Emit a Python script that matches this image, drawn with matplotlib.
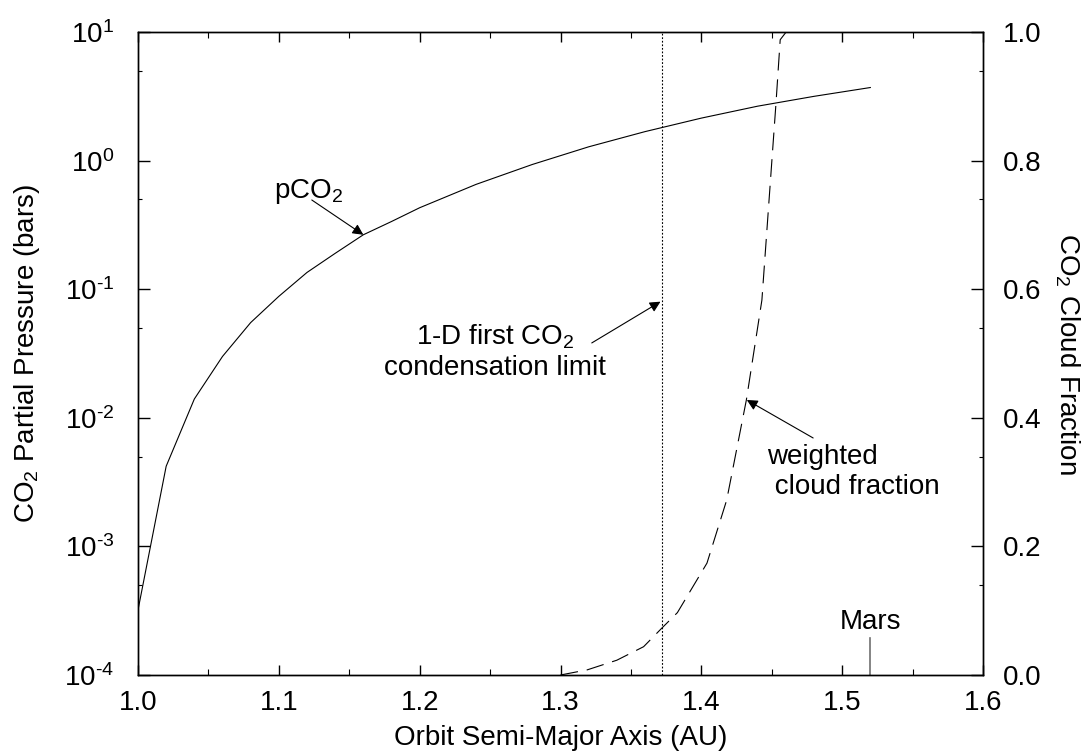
"""CO2 partial pressure and CO2 cloud fraction versus orbital distance."""

import matplotlib
matplotlib.use("Agg")
import matplotlib.pyplot as plt
import numpy as np
from matplotlib.ticker import FixedLocator, FuncFormatter, LogLocator, MultipleLocator, NullFormatter


# solid curve: CO2 partial pressure (bars) against semi-major axis (AU)
a_pco2 = [1.00, 1.02, 1.04, 1.06, 1.08, 1.10, 1.12, 1.14, 1.16, 1.18, 1.20,
          1.24, 1.28, 1.32, 1.36, 1.40, 1.44, 1.48, 1.52]
pco2 = [3.2e-4, 4.2e-3, 1.4e-2, 3.0e-2, 5.5e-2, 0.088, 0.135, 0.19, 0.265, 0.336, 0.43,
        0.653, 0.933, 1.28, 1.68, 2.14, 2.65, 3.16, 3.70]

# dashed curve: weighted CO2 cloud fraction
a_cloud = [1.300, 1.319, 1.340, 1.359, 1.372, 1.383, 1.404, 1.418, 1.432, 1.443,
           1.453, 1.456, 1.462]
cloud = [0.0, 0.008, 0.023, 0.044, 0.073, 0.097, 0.174, 0.272, 0.428, 0.583,
         0.889, 0.988, 1.005]

condensation_limit = 1.372
mars_a = 1.52

x_ticks = [1.0, 1.1, 1.2, 1.3, 1.4, 1.5, 1.6]
frac_ticks = [0.0, 0.2, 0.4, 0.6, 0.8, 1.0]

FONT = "Liberation Sans"
FS = 20
plt.rcParams.update({
    "font.family": FONT,
    "font.size": FS,
    "mathtext.fontset": "custom",
    "mathtext.rm": FONT,
    "mathtext.it": FONT + ":italic",
    "mathtext.bf": FONT + ":bold",
    "axes.unicode_minus": False,
    "axes.linewidth": 1.0,
})


def decade_label(val, pos):
    # plain hyphen in the exponent, as on the printed axis
    exp = int(round(np.log10(val)))
    return r"10$^{\text{%d}}$" % exp


fig = plt.figure(figsize=(10.91, 7.55), dpi=100)
ax = fig.add_axes([138 / 1091, 1 - 675 / 755, 845 / 1091, 643 / 755])
ax2 = ax.twinx()

ax.plot(a_pco2, pco2, color="black", lw=0.8)
ax.set_yscale("log")
ax.set_ylim(1e-4, 10)
ax.set_xlim(1.0, 1.6)
ax.axvline(condensation_limit, color="black", lw=0.8, dashes=(1.6, 1.6))

ln, = ax2.plot(a_cloud, cloud, color="black", lw=0.8)
ln.set_dashes((16, 8))
ax2.set_ylim(0, 1)

# Mars marker on the bottom axis
ax.axvline(mars_a, ymin=0, ymax=0.058, color="#707070", lw=1.2)
ax.text(mars_a, 0.082, "Mars", transform=ax.get_xaxis_transform(),
        ha="center", va="center", fontsize=FS)

# ticks
ax.xaxis.set_major_locator(FixedLocator(x_ticks))
ax.xaxis.set_minor_locator(MultipleLocator(0.05))
ax.set_xticklabels([f"{t:.1f}" for t in x_ticks])
ax.yaxis.set_major_locator(LogLocator(base=10, numticks=10))
ax.yaxis.set_major_formatter(FuncFormatter(decade_label))
ax.yaxis.set_minor_locator(LogLocator(base=10, subs=[5.0], numticks=10))
ax.yaxis.set_minor_formatter(NullFormatter())
ax.tick_params(which="both", direction="in", top=True, right=True, labelright=False)
ax.tick_params(axis="y", which="major", length=8.5, width=1.0, pad=17, labelsize=FS)
ax.tick_params(axis="y", which="minor", length=3, width=0.8)
ax.tick_params(axis="x", which="major", length=7, width=1.0, pad=11, labelsize=FS)
ax.tick_params(axis="x", which="minor", length=4.5, width=0.8)

ax2.yaxis.set_major_locator(FixedLocator(frac_ticks))
ax2.set_yticklabels([f"{t:.1f}" for t in frac_ticks])
ax2.tick_params(axis="y", which="both", length=0, pad=14, labelsize=FS)

ax.set_xlabel("Orbit Semi-Major Axis (AU)", fontsize=FS, labelpad=6)
ax.set_ylabel("CO$_2$ Partial Pressure (bars)", fontsize=FS, labelpad=16)
ax2.set_ylabel("CO$_2$ Cloud Fraction", fontsize=FS, rotation=270, labelpad=29)

arrow = dict(arrowstyle="-|>", color="black", lw=0.8, mutation_scale=16,
             shrinkA=0, shrinkB=0)

# annotations
ax.text(1.1214, 0.512, "pCO$_2$", ha="center", va="baseline", fontsize=FS)
ax.annotate("", xy=(1.16, 0.265), xytext=(1.1234, 0.494), arrowprops=arrow)

ax.text(1.2536, 0.0325, "1-D first CO$_2$\ncondensation limit", ha="center",
        va="center", multialignment="center", fontsize=FS, linespacing=1.2)
ax.annotate("", xy=(condensation_limit - 0.001, 0.080), xytext=(1.3222, 0.0382),
            arrowprops=arrow)

ax2.text(1.4467, 0.316, "weighted\n cloud fraction", ha="left", va="center",
         multialignment="left", fontsize=FS, linespacing=1.2)
ax2.annotate("", xy=(1.4323, 0.4277), xytext=(1.4794, 0.3686), arrowprops=arrow)

fig.savefig("out.png", dpi=100, facecolor="white")
